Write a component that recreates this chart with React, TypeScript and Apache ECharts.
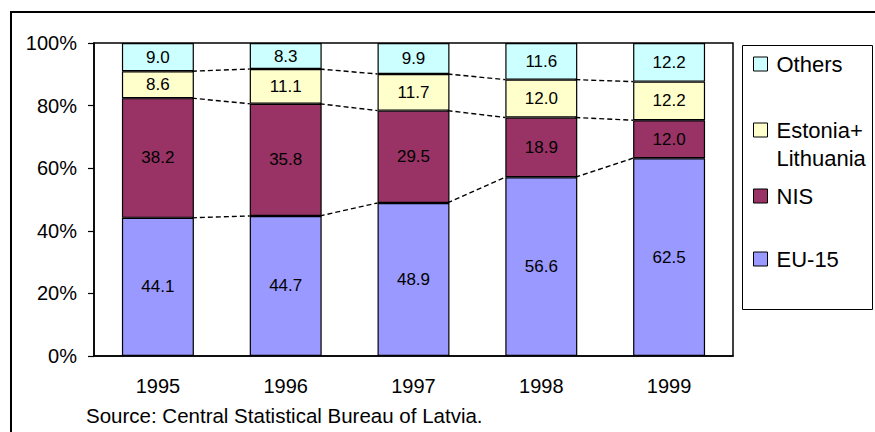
import React, { useEffect, useRef } from "react";
import * as echarts from "echarts";

const categories = ["1995", "1996", "1997", "1998", "1999"];
const seriesNames = ["EU-15", "NIS", "Estonia+Lithuania", "Others"];
const euValues = [44.1, 44.7, 48.9, 56.6, 62.5];
const nisValues = [38.2, 35.8, 29.5, 18.9, 12.0];
const estLitValues = [8.6, 11.1, 11.7, 12.0, 12.2];
const othersValues = [9.0, 8.3, 9.9, 11.6, 12.2];
const colors = ["#9999FF", "#993366", "#FFFFCC", "#CCFFFF"];
const yTicks = [0, 20, 40, 60, 80, 100];

const FONT = '"Liberation Sans", Arial, sans-serif';
const BAR_FRACTION = 0.563;

export default function App() {
  const ref = useRef<HTMLDivElement>(null);

  useEffect(() => {
    if (!ref.current) return;
    const chart = echarts.init(ref.current, undefined, { renderer: "svg" });

    const raw = [euValues, nisValues, estLitValues, othersValues];
    const totals = categories.map((_, i) => raw.reduce((s, arr) => s + arr[i], 0));
    const norm = raw.map((arr) => arr.map((v, i) => (v / totals[i]) * 100));

    // cumulative tops for series lines (EU, NIS, Estonia levels)
    const cumLevels: number[][] = [];
    let acc = categories.map(() => 0);
    for (let s = 0; s < 3; s++) {
      acc = acc.map((a, i) => a + norm[s][i]);
      cumLevels.push(acc.slice());
    }
    const lineData: number[][] = [];
    cumLevels.forEach((lvl) => {
      for (let i = 0; i < categories.length - 1; i++) {
        lineData.push([i, lvl[i], lvl[i + 1]]);
      }
    });

    const barSeries = seriesNames.map((name, s) => ({
      name,
      type: "bar",
      stack: "total",
      barWidth: BAR_FRACTION * 100 + "%",
      data: norm[s],
      itemStyle: { color: colors[s], borderColor: "#000", borderWidth: 1.2 },
      label: {
        show: true,
        position: "inside",
        color: "#000",
        fontSize: 17,
        fontFamily: FONT,
        formatter: (p: any) => raw[s][p.dataIndex].toFixed(1),
      },
      z: 2,
    }));

    const legendItem = (name: string, top: number, extra: any = {}) => ({
      data: [name],
      orient: "vertical",
      left: 753,
      top,
      padding: 0,
      itemGap: 0,
      itemWidth: 14,
      itemHeight: 14,
      icon: "rect",
      selectedMode: false,
      itemStyle: { borderColor: "#000", borderWidth: 1 },
      textStyle: {
        fontSize: 22,
        lineHeight: 26,
        fontFamily: FONT,
        color: "#000",
        padding: [0, 0, 0, 4],
        ...(extra.textStyle || {}),
      },
      ...(extra.formatter ? { formatter: extra.formatter } : {}),
    });

    chart.setOption({
      animation: false,
      backgroundColor: "#fff",
      grid: {
        left: 94,
        right: 142,
        top: 43,
        bottom: 76,
        show: true,
        borderColor: "#000",
        borderWidth: 1.5,
        backgroundColor: "transparent",
      },
      xAxis: {
        type: "category",
        data: categories,
        axisLine: { lineStyle: { color: "#000", width: 1.5 } },
        axisTick: { show: false },
        axisLabel: { color: "#000", fontSize: 20, fontFamily: FONT, margin: 20 },
      },
      yAxis: {
        type: "value",
        min: yTicks[0],
        max: yTicks[yTicks.length - 1],
        interval: 20,
        axisLine: { show: true, lineStyle: { color: "#000", width: 1.5 } },
        axisTick: { show: true, length: 6, lineStyle: { color: "#000", width: 1.2 } },
        splitLine: { show: false },
        axisLabel: {
          color: "#000",
          fontSize: 20,
          fontFamily: FONT,
          margin: 17,
          formatter: "{value}%",
        },
      },
      legend: [
        legendItem("Others", 51),
        legendItem("Estonia+Lithuania", 88, {
          formatter: () => "\nEstonia+\nLithuania",
          textStyle: { lineHeight: 28 },
        }),
        legendItem("NIS", 183),
        legendItem("EU-15", 246),
      ],
      graphic: [
        {
          type: "rect",
          shape: { x: 11, y: 12, width: 900, height: 500 },
          style: { fill: "none", stroke: "#000", lineWidth: 2 },
          silent: true,
          z: 0,
        },
        {
          type: "rect",
          shape: { x: 742.5, y: 45.5, width: 130, height: 264 },
          style: { fill: "none", stroke: "#000", lineWidth: 1 },
          silent: true,
        },
        {
          type: "text",
          left: 86,
          top: 405,
          style: {
            text: "Source: Central Statistical Bureau of Latvia.",
            fontSize: 20.5,
            fontFamily: FONT,
            fill: "#000",
          },
        },
      ],
      series: [
        ...barSeries,
        {
          type: "custom",
          name: "seriesLines",
          data: lineData,
          encode: { x: 0, y: [1, 2] },
          z: 5,
          silent: true,
          renderItem: (params: any, api: any) => {
            const x = api.value(0);
            const p1 = api.coord([x, api.value(1)]);
            const p2 = api.coord([x + 1, api.value(2)]);
            const half = (api.size([1, 0])[0] * BAR_FRACTION) / 2;
            return {
              type: "line",
              shape: { x1: p1[0] + half - 2, y1: p1[1], x2: p2[0] - half, y2: p2[1] },
              style: { stroke: "#000", lineWidth: 1.4, lineDash: [5, 3], fill: null },
            };
          },
        },
      ],
    });

    return () => chart.dispose();
  }, []);

  return (
    <div
      ref={ref}
      style={{ position: "fixed", left: 0, top: 0, width: 875, height: 432 }}
    />
  );
}
